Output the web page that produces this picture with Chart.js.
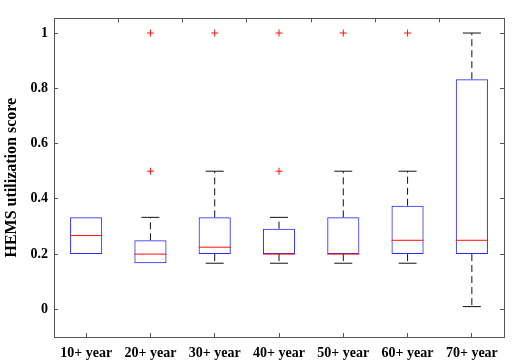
<!DOCTYPE html>
<html>
<head>
<meta charset="utf-8">
<script src="https://cdn.jsdelivr.net/npm/chart.js@4.4.1/dist/chart.umd.min.js"></script>
<style>
  html, body { margin: 0; padding: 0; background: #fff; }
  #wrap { width: 512px; height: 363px; }
</style>
</head>
<body>
<div id="wrap"><canvas id="boxChart"></canvas></div>
<script>
// box plot values
const categories = ["10+ year", "20+ year", "30+ year", "40+ year", "50+ year", "60+ year", "70+ year"];
const q1 = [0.2, 0.167, 0.2, 0.2, 0.2, 0.2, 0.2];
const q3 = [0.333, 0.25, 0.333, 0.292, 0.333, 0.375, 0.833];
const medians = [0.267, 0.2, 0.225, 0.2, 0.2, 0.25, 0.25];
const whiskerLow = [0.2, 0.167, 0.167, 0.167, 0.167, 0.167, 0.01];
const whiskerHigh = [0.333, 0.333, 0.5, 0.333, 0.5, 0.5, 1];
const outliers = [[], [0.5, 1], [1], [0.5, 1], [1], [1], []];
const yTicks = [0, 0.2, 0.4, 0.6, 0.8, 1];

const boxHalf = 0.25;
const capHalf = 0.14;
const tickFont = { family: "Liberation Serif", weight: "bold", size: 14 };
const titleFont = { family: "Liberation Serif", weight: "bold", size: 16 };
const frameColor = "#555";

// build the datasets from the arrays
const boxData = categories.map((c, i) => ({ x: i + 1, y: [q1[i], q3[i]] }));

const medianData = [];
const whiskerData = [];
const capData = [];
const outlierData = [];
categories.forEach((c, i) => {
  const x = i + 1;
  medianData.push({ x: x - boxHalf, y: medians[i] }, { x: x + boxHalf, y: medians[i] }, { x: x, y: null });
  // whiskers that sit on the box edge are hidden by the box anyway
  if (whiskerHigh[i] > q3[i]) {
    whiskerData.push({ x: x, y: q3[i] }, { x: x, y: whiskerHigh[i] }, { x: x, y: null });
    capData.push({ x: x - capHalf, y: whiskerHigh[i] }, { x: x + capHalf, y: whiskerHigh[i] }, { x: x, y: null });
  }
  if (whiskerLow[i] < q1[i]) {
    whiskerData.push({ x: x, y: q1[i] }, { x: x, y: whiskerLow[i] }, { x: x, y: null });
    capData.push({ x: x - capHalf, y: whiskerLow[i] }, { x: x + capHalf, y: whiskerLow[i] }, { x: x, y: null });
  }
  outliers[i].forEach((v) => outlierData.push({ x: x, y: v }));
});

const setTicks = (values) => (scale) => {
  scale.ticks = values.map((v) => ({ value: v }));
};

const frameAxis = (position, extra) => ({
  type: "linear",
  position: position,
  grid: { drawOnChartArea: false, drawTicks: true, tickLength: -4, color: frameColor },
  border: { display: true, color: frameColor, width: 1 },
  ticks: { display: false },
  ...extra,
});

const ctx = document.getElementById("boxChart");

const boxChart = new Chart(ctx, {
  type: "bar",
  data: {
    datasets: [
      {
        type: "line",
        data: whiskerData,
        borderColor: "#111",
        borderWidth: 1,
        borderDash: [7, 4],
        pointRadius: 0,
        spanGaps: false,
        order: 5,
      },
      {
        type: "line",
        data: capData,
        borderColor: "#111",
        borderWidth: 1,
        pointRadius: 0,
        spanGaps: false,
        order: 4,
      },
      {
        type: "bar",
        data: boxData,
        backgroundColor: "rgba(255,255,255,0)",
        borderColor: "#2a2af0",
        borderWidth: 1,
        borderSkipped: false,
        barPercentage: 0.5,
        categoryPercentage: 1,
        order: 3,
      },
      {
        type: "line",
        data: medianData,
        borderColor: "#ff1010",
        borderWidth: 1,
        pointRadius: 0,
        spanGaps: false,
        order: 2,
      },
      {
        type: "line",
        data: outlierData,
        showLine: false,
        pointStyle: "cross",
        pointRadius: 3.5,
        pointBorderColor: "#ff1010",
        pointBorderWidth: 1,
        order: 1,
      },
    ],
  },
  options: {
    responsive: true,
    maintainAspectRatio: false,
    animation: false,
    layout: { padding: 0 },
    plugins: { legend: { display: false }, tooltip: { enabled: false } },
    scales: {
      x: frameAxis("bottom", {
        min: 0.5,
        max: 7.5,
        offset: false,
        grid: { drawOnChartArea: false, drawTicks: true, tickLength: -4, color: frameColor, offset: false },
        ticks: {
          display: true,
          color: "#000",
          font: tickFont,
          padding: 12,
          maxRotation: 0,
          autoSkip: false,
          callback: (v) => categories[v - 1],
        },
        afterBuildTicks: setTicks(categories.map((c, i) => i + 1)),
        afterFit: (scale) => { scale.height = 26; },
      }),
      x2: frameAxis("top", {
        min: 0.5,
        max: 7.5,
        offset: false,
        afterBuildTicks: setTicks(categories.map((c, i) => i + 1)),
        afterFit: (scale) => { scale.height = 6; },
      }),
      y: frameAxis("left", {
        min: -0.1,
        max: 1.053,
        ticks: {
          display: true,
          color: "#000",
          font: tickFont,
          padding: 10,
          callback: (v) => String(v),
        },
        title: {
          display: true,
          text: "HEMS utilization score",
          color: "#000",
          font: titleFont,
          padding: { top: 2, bottom: 0 },
        },
        afterBuildTicks: setTicks(yTicks),
        afterFit: (scale) => { scale.width = 54; },
      }),
      y2: frameAxis("right", {
        min: -0.1,
        max: 1.053,
        afterBuildTicks: setTicks(yTicks),
        afterFit: (scale) => { scale.width = 8; },
      }),
    },
  },
});
</script>
</body>
</html>
